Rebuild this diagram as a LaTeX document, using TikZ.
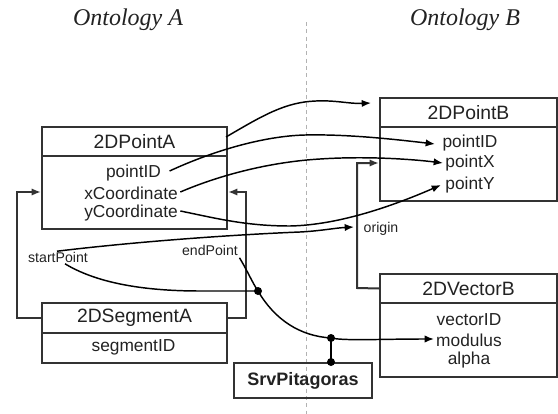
\documentclass[tikz,border=0pt]{standalone}
\usepackage{fontspec}
\setmainfont{Liberation Sans}
\newfontfamily\titlefont{Liberation Serif}
\usetikzlibrary{arrows.meta,calc}
\definecolor{boxc}{HTML}{333333}
\definecolor{txtc}{HTML}{222222}
\tikzset{
  boxhdr/.style={draw=boxc,line width=1.5pt,anchor=north west,inner sep=0pt,text=txtc,font=\fontsize{14.5}{16}\selectfont},
  boxbody/.style={draw=boxc,line width=1.5pt,anchor=north west,inner sep=0pt},
  attr/.style={text=txtc,inner sep=1pt,font=\fontsize{13}{15}\selectfont},
  small/.style={text=txtc,inner sep=1pt,font=\fontsize{10.6}{12}\selectfont},
  ttl/.style={text=txtc,font=\titlefont\itshape\fontsize{18}{20}\selectfont},
  conn/.style={line width=1.1pt,black},
  arr/.style={-{Latex[length=7pt,width=5.5pt]}},
  brk/.style={line width=1.5pt,draw=boxc,-{Latex[length=7pt,width=5.5pt]}},
  dot/.style={circle,fill=black,inner sep=0pt,minimum size=6pt},
}
\begin{document}
\begin{tikzpicture}[x=0.75pt,y=-0.75pt]
\useasboundingbox (0,0) rectangle (558,414);
% titles
\node[ttl] (tA) at (128,20) {Ontology A};
\node[ttl] (tB) at (465,20) {Ontology B};
% separator
\coordinate (s1) at (306,22);
\coordinate (s2) at (306,414);
\draw[gray!60,line width=0.75pt,dash pattern=on 3pt off 2.5pt] (s1) -- (s2);

% 2DPointA
\node[boxhdr,minimum width=138.75pt,minimum height=21.75pt] (pAh) at (41,126) {2DPointA};
\node[boxbody,minimum width=138.75pt,minimum height=54.75pt] (pAb) at (41,155) {};
\node[attr] (pA1) at (133.5,173) {pointID};
\node[attr] (pA2) at (131,193) {xCoordinate};
\node[attr] (pA3) at (131,213) {yCoordinate};

% 2DPointB
\node[boxhdr,minimum width=132.75pt,minimum height=21.75pt] (pBh) at (379,97) {2DPointB};
\node[boxbody,minimum width=132.75pt,minimum height=55.5pt] (pBb) at (379,126) {};
\node[attr] (pB1) at (470,143) {pointID};
\node[attr] (pB2) at (470,163) {pointX};
\node[attr] (pB3) at (470,185) {pointY};

% 2DVectorB
\node[boxhdr,minimum width=132.75pt,minimum height=21.75pt] (vBh) at (379,273) {2DVectorB};
\node[boxbody,minimum width=132.75pt,minimum height=55.5pt] (vBb) at (379,302) {};
\node[attr] (vB1) at (469,320) {vectorID};
\node[attr] (vB2) at (469,340) {modulus};
\node[attr] (vB3) at (469,360) {alpha};

% 2DSegmentA
\node[boxhdr,minimum width=138.75pt,minimum height=22.5pt] (sAh) at (41,302) {2DSegmentA};
\node[boxbody,minimum width=138.75pt,minimum height=22.5pt] (sAb) at (41,332) {};
\node[attr] (sA1) at (133.5,347) {segmentID};

% SrvPitagoras
\node[draw=boxc,line width=1.5pt,anchor=north west,minimum width=103.5pt,minimum height=26.25pt,inner sep=0pt,text=txtc,font=\bfseries\fontsize{13.5}{15}\selectfont] (srv) at (233,362) {SrvPitagoras};

% labels
\node[small] (lsp) at (58,257) {startPoint};
\node[small] (lep) at (210,250) {endPoint};
\node[small] (lor) at (381,229) {origin};

% brackets
\coordinate (bl1) at (17,318);
\coordinate (bl2) at (17,192);
\draw[brk] (sAh.west) -- (bl1) -- (bl2) -- (bl2 -| pAb.west);
\coordinate (br1) at (246,318);
\coordinate (br2) at (246,192);
\draw[brk] (sAh.east) -- (br1) -- (br2) -- (br2 -| pAb.east);
\coordinate (bv1) at (357,288);
\coordinate (bv2) at (357,163);
\draw[brk] (vBh.west) -- (bv1) -- (bv2) -- (bv2 -| pBb.west);

% mapping curves
\coordinate (h0) at (226,137);
\coordinate (h1) at (371,103);
\draw[conn,arr] (h0) .. controls (262,116) and (285,102) .. (316,101)
   .. controls (335,100) and (350,104) .. (h1);
\coordinate (i1) at (435,144);
\draw[conn,arr] ($(pA1.east)+(7,-2)$) .. controls (215,150) and (265,136) .. (305,135)
   .. controls (350,134) and (400,140) .. (i1);
\coordinate (x1) at (443,163);
\draw[conn,arr] ($(pA2.east)+(1,-1)$) .. controls (220,175) and (270,162) .. (320,159)
   .. controls (365,156) and (410,159) .. (x1);
\coordinate (y1) at (441,185);
\draw[conn,arr] ($(pA3.east)+(1,-2)$) .. controls (215,218) and (245,226) .. (290,226)
   .. controls (340,225) and (395,205) .. (y1);
\coordinate (o1) at (354,227);
\draw[conn,arr] ($(lsp.north)+(-1,1)$) .. controls (150,240) and (250,234) .. (300,232)
   .. controls (320,231) and (335,228) .. (o1);
\node[dot] (d1) at (258,291) {};
\node[dot] (d2) at (331,338) {};
\node[dot] (d3) at (331,362) {};
\draw[conn] ($(lsp.south)+(7,0)$) .. controls (95,282) and (140,291) .. (200,291) -- (d1.center);
\draw[conn] ($(lep.south east)+(0,1)$) .. controls (247,270) and (252,282) .. (d1.center)
   .. controls (275,320) and (300,336) .. (d2.center);
\coordinate (m1) at (434,339);
\draw[conn,arr] (d2.center) .. controls (345,341) and (380,339) .. (m1);
\draw[conn] (d2.center) -- (d3.center);
\end{tikzpicture}
\end{document}
